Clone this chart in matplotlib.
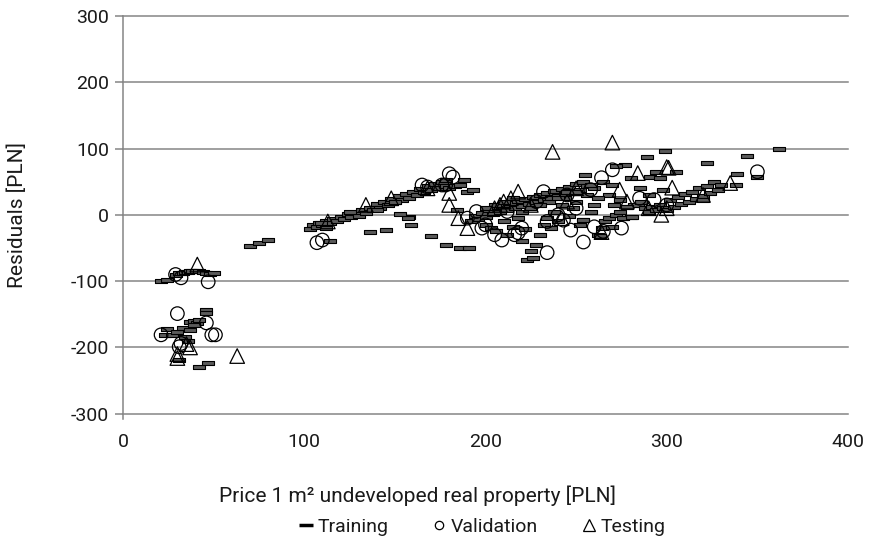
import matplotlib
matplotlib.use("Agg")
import matplotlib.pyplot as plt
from matplotlib.lines import Line2D

plt.rcParams["font.family"] = ["Roboto", "DejaVu Sans"]
plt.rcParams["axes.unicode_minus"] = False

# Training residuals (dash markers)
train_x = [21, 24, 29, 31, 33, 34, 36, 37, 38, 40, 42, 44, 46, 48, 50,
           24, 23, 27, 30, 33, 34, 37, 37, 39, 41, 39, 42, 46, 46, 31, 42, 47, 36,
           70, 75, 80,
           103, 105, 107, 108, 110, 112, 114, 116, 118, 120, 122, 124, 126, 128,
           130, 132, 134, 136, 138, 140, 142, 144, 146, 148, 150, 152, 154, 156,
           158, 160, 162, 164, 166, 168, 170, 172, 174, 176, 178,
           114, 136, 145, 158, 109, 112, 125, 140, 150,
           180, 183, 186, 190, 193, 184, 188, 178,
           157, 170, 178, 186, 191, 159, 153,
           192, 194, 196, 198, 200, 202, 204, 206, 208, 210, 212, 214, 216, 218,
           220, 222, 224, 226, 228, 230, 232, 234, 236, 238, 240, 242, 244, 246,
           248, 250, 252, 254, 256,
           200, 203, 206, 210, 212, 215, 218, 220, 222, 225, 223, 226, 228, 230,
           232, 234, 236, 238, 240, 242, 244, 246, 248, 250, 252, 254, 256, 258,
           260, 205, 215, 225, 235, 245, 200, 210, 220, 230, 240, 250,
           262, 264, 266, 268, 270, 272, 274, 276, 278, 280, 282, 284, 286, 288,
           290, 292, 294, 296, 298, 300, 302, 304, 306, 308, 310, 312, 314, 316,
           318, 320, 322, 324, 326, 328, 330, 320, 338, 339, 344, 350, 322, 362,
           299, 289, 305, 277, 272, 294, 291, 296, 298, 274, 271, 278, 254, 263,
           276, 281, 260, 265, 268, 270, 280, 285, 290, 262, 258, 255]
train_y = [-100, -99, -90, -88, -87, -86, -86, -85, -84, -84, -85, -86, -88, -89, -88,
           -172, -181, -182, -176, -170, -184, -161, -173, -160, -163, -166, -158, -143,
           -148, -219, -229, -223, -190,
           -47, -43, -38,
           -22, -16, -19, -13, -15, -9, -12, -6, -9, -3, -6, 1, -3, 3,
           -1, 7, 3, 11, 7, 16, 11, 20, 15, 24, 19, 28, 23, 31,
           26, 35, 30, 39, 34, 43, 38, 46, 40, 49, 44,
           -39, -26, -23, -3, -12, -20, 5, 8, 20,
           40, 43, 45, 34, 38, 8, 52, 52,
           -5, -32, -45, -50, -50, -15, 2,
           -10, -2, -7, 3, -3, 8, 1, 12, 4, 15, 7, 18, 10, 21,
           13, 24, 16, 27, 19, 30, 22, 33, 25, 36, 28, 39, 31, 42,
           35, 46, 38, 50, 44,
           -15, -20, -25, -10, -30, -18, -5, -40, -22, -55, -68, -65, -45, -30,
           -15, -5, -20, 5, -10, 15, 25, -2, 10, 20, -15, -8, 30, 5,
           15, 15, 25, 10, 20, 35, 10, 20, 5, 15, 25, 35,
           -30, -20, -10, -5, -18, 0, 5, -5, 12, -3, 15, 15, 20, 10,
           5, 12, 8, 15, 10, 8, 22, 12, 27, 16, 31, 20, 35, 24,
           40, 28, 44, 33, 50, 37, 45, 23, 45, 62, 89, 57, 78, 100,
           97, 87, 65, 75, 74, 65, 57, 56, 38, 23, 15, 12, -8, -32,
           -5, -3, 40, 50, 30, 45, 55, 40, 30, 25, 45, 60]

# Validation residuals (circles)
val_x = [30, 21, 32, 46, 49, 51, 31, 32, 47, 29,
         107, 110, 165, 168, 176, 180, 182, 178, 195, 190, 209, 218, 232, 234,
         234, 247, 254, 264, 270, 293, 258, 350, 240, 245, 250, 275, 285, 300,
         265, 220, 200, 212, 228, 216, 205, 198, 243, 260]
val_y = [-149, -181, -194, -163, -181, -181, -199, -95, -101, -90,
         -42, -38, 45, 42, 45, 62, 57, 45, 5, -5, -38, -27, 35, -10,
         -57, -23, -41, 56, 68, 23, 38, 65, 0, 30, 10, -20, 25, 15,
         -25, -20, -15, 5, 20, -30, -30, -20, -8, -18]

# Testing residuals (triangles)
test_x = [41, 37, 30, 30, 63, 35,
          134, 113, 148, 180, 180, 168, 190, 185, 218, 237, 270, 284, 301, 303,
          274, 297, 264, 214, 205, 225, 245, 250, 300, 335, 300, 210, 242, 278,
          290, 320, 208]
test_y = [-75, -200, -216, -210, -213, -195,
          15, -10, 25, 33, 15, 40, -20, -5, 35, 95, 109, 63, 71, 41,
          38, 0, -26, 25, 10, 15, 20, 40, 10, 48, 72, 20, -5, 20,
          10, 30, 15]

x_ticks = [0, 100, 200, 300, 400]
y_ticks = [-300, -200, -100, 0, 100, 200, 300]

grid_col = "#858585"
text_col = "#1a1a1a"

fig = plt.figure(figsize=(8.71, 5.46), dpi=100)
ax = fig.add_axes([123 / 871, 1 - 419 / 546, 725 / 871, (419 - 16) / 546])

for yv in y_ticks:
    ax.axhline(yv, color=grid_col, lw=1.1, zorder=1, clip_on=False)

dash = [(-3, -1), (3, -1), (3, 1), (-3, 1), (-3, -1)]
ax.scatter(train_x, train_y, marker=dash, s=70, facecolor="#5a5a5a",
           edgecolor="black", linewidths=0.8, zorder=3)
ax.scatter(val_x, val_y, marker="o", s=95, facecolor="none",
           edgecolor="black", linewidths=0.9, zorder=4)
ax.scatter(test_x, test_y, marker="^", s=110, facecolor="none",
           edgecolor="black", linewidths=0.9, zorder=4)

ax.set_xlim(0, 400)
ax.set_ylim(-308, 300)
ax.set_xticks(x_ticks)
ax.set_yticks(y_ticks)
for s in ["top", "right", "bottom"]:
    ax.spines[s].set_visible(False)
ax.spines["left"].set_color(grid_col)
ax.spines["left"].set_linewidth(1.1)
ax.tick_params(axis="y", length=6, width=1.1, color=grid_col, labelsize=14,
               labelcolor=text_col, pad=4)
ax.tick_params(axis="x", length=0, labelsize=14, labelcolor=text_col, pad=10)

fig.text(17 / 871, 1 - 215 / 546, "Residuals [PLN]", rotation=90, fontsize=15,
         color=text_col, ha="center", va="center")
fig.text(417 / 871, 1 - 496 / 546, "Price 1 m² undeveloped real property [PLN]",
         fontsize=15, color=text_col, ha="center", va="center")

handles = [
    Line2D([], [], ls="none", marker="_", ms=10, mew=2.5, color="black"),
    Line2D([], [], ls="none", marker="o", ms=6, mfc="none", mec="black", mew=0.9),
    Line2D([], [], ls="none", marker="^", ms=8, mfc="none", mec="black", mew=0.9),
]
leg = fig.legend(handles, ["Training", "Validation", "Testing"], ncol=3,
                 loc="center", bbox_to_anchor=(482 / 871, 1 - 527 / 546),
                 frameon=False, fontsize=14, handlelength=0.8, handletextpad=0.2,
                 columnspacing=2.2)
for t in leg.get_texts():
    t.set_color(text_col)

fig.savefig("out.png", dpi=100)
